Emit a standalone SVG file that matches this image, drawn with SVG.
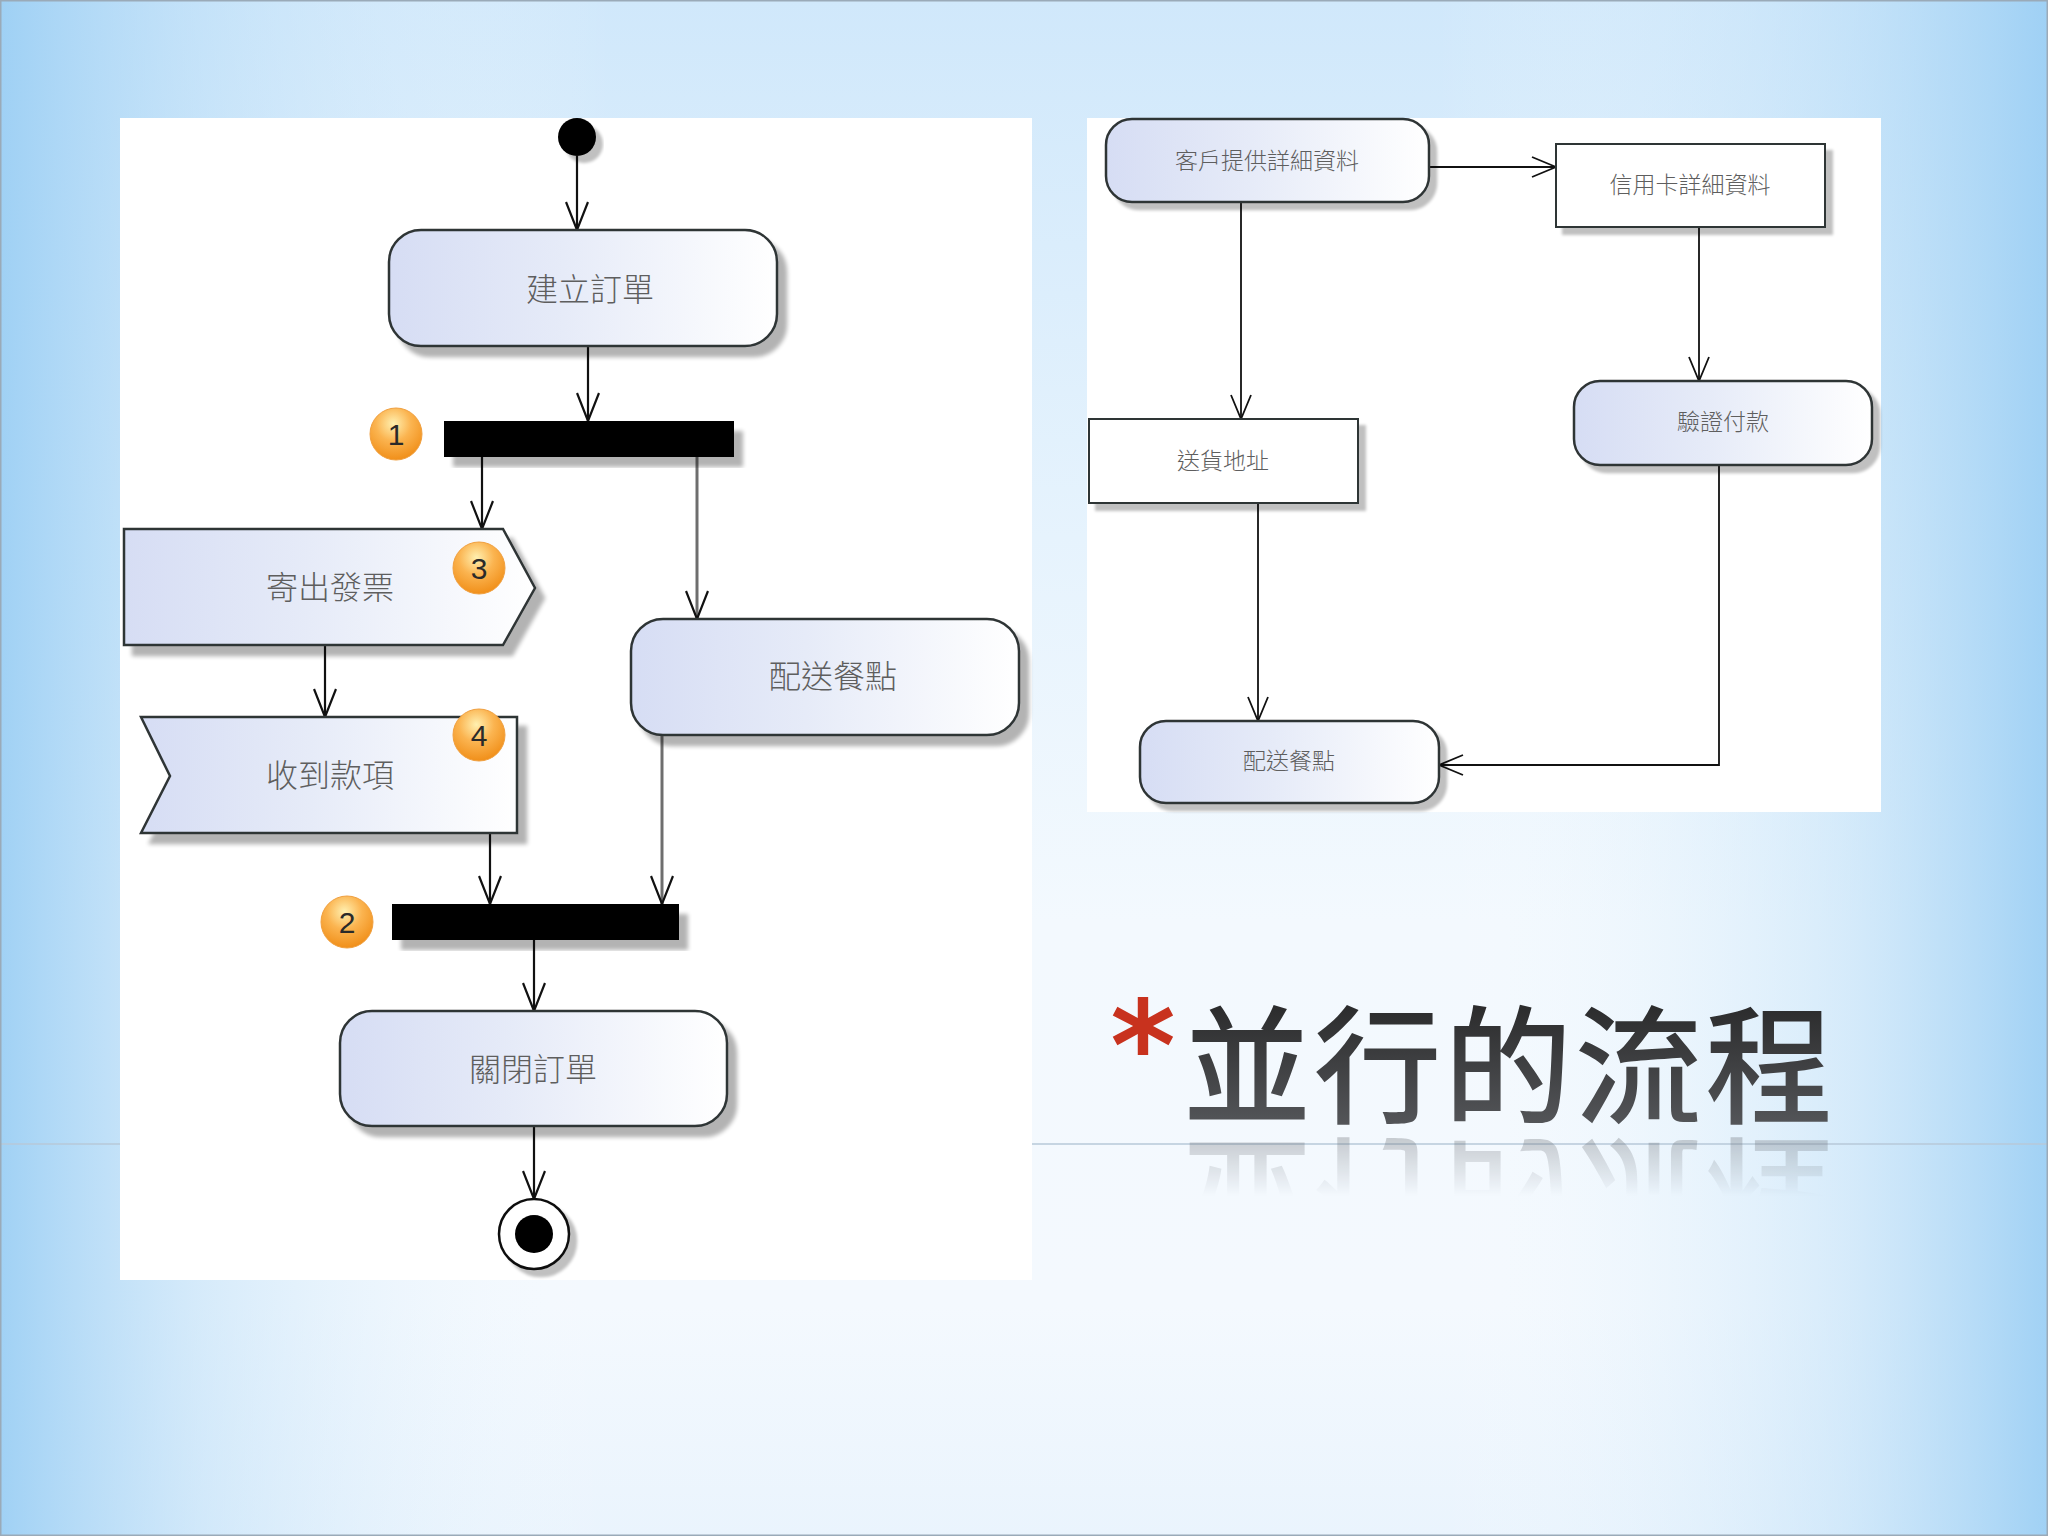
<svg xmlns="http://www.w3.org/2000/svg" xmlns:xlink="http://www.w3.org/1999/xlink" width="2048" height="1536" viewBox="0 0 2048 1536">
<defs>
  <linearGradient id="bgV" x1="0" y1="0" x2="0" y2="1">
    <stop offset="0" stop-color="#d0e8fb"/>
    <stop offset="0.35" stop-color="#e6f3fd"/>
    <stop offset="0.6" stop-color="#f3f9fe"/>
    <stop offset="0.85" stop-color="#f4f9fe"/>
    <stop offset="1" stop-color="#eaf4fd"/>
  </linearGradient>
  <linearGradient id="bgH" x1="0" y1="0" x2="1" y2="0">
    <stop offset="0" stop-color="#9ccff4" stop-opacity="0.95"/>
    <stop offset="0.1" stop-color="#b9ddf7" stop-opacity="0.5"/>
    <stop offset="0.3" stop-color="#ffffff" stop-opacity="0"/>
    <stop offset="0.7" stop-color="#ffffff" stop-opacity="0"/>
    <stop offset="0.9" stop-color="#b9ddf7" stop-opacity="0.5"/>
    <stop offset="1" stop-color="#9ccff4" stop-opacity="0.95"/>
  </linearGradient>
  <linearGradient id="nodeFill" x1="0" y1="0" x2="1" y2="0">
    <stop offset="0" stop-color="#d6ddf4"/>
    <stop offset="0.45" stop-color="#e6ebf8"/>
    <stop offset="1" stop-color="#ffffff"/>
  </linearGradient>
  <radialGradient id="badge" cx="0.45" cy="0.3" r="0.75">
    <stop offset="0" stop-color="#fff0b0"/>
    <stop offset="0.45" stop-color="#fbb450"/>
    <stop offset="1" stop-color="#ef8a12"/>
  </radialGradient>
  <linearGradient id="titleFill" x1="0" y1="0" x2="0" y2="1">
    <stop offset="0" stop-color="#1e1e1e"/>
    <stop offset="1" stop-color="#5c5e62"/>
  </linearGradient>
  <linearGradient id="reflFade" x1="0" y1="0" x2="0" y2="1">
    <stop offset="0" stop-color="#fff" stop-opacity="0.4"/>
    <stop offset="1" stop-color="#fff" stop-opacity="0"/>
  </linearGradient>
  <mask id="reflMask" maskUnits="userSpaceOnUse" x="1100" y="1120" width="800" height="100">
    <rect x="1100" y="1126" width="800" height="70" fill="url(#reflFade)"/>
  </mask>
  <filter id="shadow" x="-10%" y="-10%" width="130%" height="140%">
    <feGaussianBlur in="SourceAlpha" stdDeviation="2"/>
    <feOffset dx="9" dy="10" result="o"/>
    <feComponentTransfer><feFuncA type="linear" slope="0.3"/></feComponentTransfer>
    <feMerge><feMergeNode/><feMergeNode in="SourceGraphic"/></feMerge>
  </filter>
  <filter id="shadowSm" x="-10%" y="-10%" width="130%" height="140%">
    <feGaussianBlur in="SourceAlpha" stdDeviation="1.5"/>
    <feOffset dx="7" dy="7" result="o"/>
    <feComponentTransfer><feFuncA type="linear" slope="0.25"/></feComponentTransfer>
    <feMerge><feMergeNode/><feMergeNode in="SourceGraphic"/></feMerge>
  </filter>
  <marker id="arr" viewBox="0 0 30 24" refX="29" refY="12" markerWidth="30" markerHeight="24" markerUnits="userSpaceOnUse" orient="auto">
    <path d="M1,1 L29,12 L1,23" fill="none" stroke="#111" stroke-width="2.2"/>
  </marker>
  <marker id="arrS" viewBox="0 0 26 22" refX="25" refY="11" markerWidth="26" markerHeight="22" markerUnits="userSpaceOnUse" orient="auto">
    <path d="M1,1 L25,11 L1,21" fill="none" stroke="#111" stroke-width="1.8"/>
  </marker>
  <style>
    .node { fill: url(#nodeFill); stroke: #2f3436; stroke-width: 2.5; }
    .box { fill: #ffffff; stroke: #2f3436; stroke-width: 2; }
    .lbl { font-family: "Noto Sans CJK TC", "Noto Sans CJK SC", sans-serif; font-weight: 300; fill: #5e5e5e; text-anchor: middle; }
    .big { font-size: 32px; }
    .small { font-size: 23px; }
    .bar { fill: #000; }
    .badgeC { fill: url(#badge); stroke: #f0a040; stroke-width: 1; }
    .badgeT { font-family: "Liberation Sans", "DejaVu Sans", sans-serif; font-size: 30px; fill: #2a2a2a; text-anchor: middle; }
    .edge { fill: none; stroke: #111; stroke-width: 2.2; marker-end: url(#arr); }
    .edgeG { fill: none; stroke: #6e6e6e; stroke-width: 3; marker-end: url(#arr); }
    .edgeS { fill: none; stroke: #111; stroke-width: 1.8; marker-end: url(#arrS); }
    .title { font-family: "Noto Sans CJK TC", "Noto Sans CJK SC", sans-serif; font-size: 128px; font-weight: 500; letter-spacing: 2.5px; }
  </style>
  <text id="titleText" class="title" x="1183" y="1114">並行的流程</text>
</defs>

<!-- background -->
<rect x="0" y="0" width="2048" height="1536" fill="url(#bgV)"/>
<rect x="0" y="0" width="2048" height="1536" fill="url(#bgH)"/>
<line x1="0" y1="1144" x2="2048" y2="1144" stroke="#b7c9d8" stroke-width="1.5"/>
<rect x="0.5" y="0.5" width="2047" height="1535" fill="none" stroke="#9aaab8" stroke-width="2"/>

<!-- panels -->
<rect x="120" y="118" width="912" height="1162" fill="#ffffff"/>
<rect x="1087" y="118" width="794" height="694" fill="#ffffff"/>

<!-- connectors -->
<g id="connectors">
  <line class="edge" x1="577" y1="156" x2="577" y2="230"/>
  <line class="edge" x1="588" y1="346" x2="588" y2="421"/>
  <line class="edge" x1="482" y1="457" x2="482" y2="529"/>
  <line class="edgeG" x1="697" y1="457" x2="697" y2="619"/>
  <line class="edge" x1="325" y1="645" x2="325" y2="717"/>
  <line class="edge" x1="490" y1="833" x2="490" y2="904"/>
  <line class="edgeG" x1="662" y1="735" x2="662" y2="904"/>
  <line class="edge" x1="534" y1="940" x2="534" y2="1011"/>
  <line class="edge" x1="534" y1="1126" x2="534" y2="1199"/>

  <line class="edgeS" x1="1429" y1="167" x2="1556" y2="167"/>
  <line class="edgeS" x1="1241" y1="202" x2="1241" y2="419"/>
  <line class="edgeS" x1="1699" y1="227" x2="1699" y2="381"/>
  <line class="edgeS" x1="1258" y1="503" x2="1258" y2="721"/>
  <polyline class="edgeS" points="1719,465 1719,765 1439,765"/>
</g>

<!-- left diagram nodes -->
<g id="start">
  <circle cx="577" cy="137" r="19" fill="#000" filter="url(#shadowSm)"/>
</g>
<g id="create-order">
  <rect class="node" x="389" y="230" width="388" height="116" rx="32" filter="url(#shadow)"/>
  <text class="lbl big" x="590" y="301">建立訂單</text>
</g>
<g id="fork">
  <rect class="bar" x="444" y="421" width="290" height="36" filter="url(#shadow)"/>
</g>
<g id="badge-1">
  <circle class="badgeC" cx="396" cy="434" r="26"/>
  <text class="badgeT" x="396" y="445">1</text>
</g>
<g id="send-invoice">
  <path class="node" d="M124,529 L503,529 L535,588 L503,645 L124,645 Z" filter="url(#shadow)"/>
  <text class="lbl big" x="330" y="599">寄出發票</text>
</g>
<g id="badge-3">
  <circle class="badgeC" cx="479" cy="568" r="26"/>
  <text class="badgeT" x="479" y="579">3</text>
</g>
<g id="deliver-left">
  <rect class="node" x="631" y="619" width="388" height="116" rx="32" filter="url(#shadow)"/>
  <text class="lbl big" x="833" y="688">配送餐點</text>
</g>
<g id="receive-payment">
  <path class="node" d="M141,717 L517,717 L517,833 L141,833 L170,776 Z" filter="url(#shadow)"/>
  <text class="lbl big" x="330" y="787">收到款項</text>
</g>
<g id="badge-4">
  <circle class="badgeC" cx="479" cy="735" r="26"/>
  <text class="badgeT" x="479" y="746">4</text>
</g>
<g id="join">
  <rect class="bar" x="392" y="904" width="287" height="36" filter="url(#shadow)"/>
</g>
<g id="badge-2">
  <circle class="badgeC" cx="347" cy="922" r="26"/>
  <text class="badgeT" x="347" y="933">2</text>
</g>
<g id="close-order">
  <rect class="node" x="340" y="1011" width="387" height="115" rx="32" filter="url(#shadow)"/>
  <text class="lbl big" x="533" y="1081">關閉訂單</text>
</g>
<g id="end">
  <g filter="url(#shadowSm)">
    <circle cx="534" cy="1234" r="35" fill="#fff" stroke="#111" stroke-width="2.5"/>
    <circle cx="534" cy="1234" r="19" fill="#000"/>
  </g>
</g>

<!-- right diagram nodes -->
<g id="customer-details">
  <rect class="node" x="1106" y="119" width="323" height="83" rx="26" filter="url(#shadowSm)"/>
  <text class="lbl small" x="1267" y="169">客戶提供詳細資料</text>
</g>
<g id="card-details">
  <rect class="box" x="1556" y="144" width="269" height="83" filter="url(#shadowSm)"/>
  <text class="lbl small" x="1690" y="193">信用卡詳細資料</text>
</g>
<g id="address">
  <rect class="box" x="1089" y="419" width="269" height="84" filter="url(#shadowSm)"/>
  <text class="lbl small" x="1223" y="469">送貨地址</text>
</g>
<g id="verify-payment">
  <rect class="node" x="1574" y="381" width="298" height="84" rx="26" filter="url(#shadowSm)"/>
  <text class="lbl small" x="1723" y="430">驗證付款</text>
</g>
<g id="deliver-right">
  <rect class="node" x="1140" y="721" width="299" height="82" rx="26" filter="url(#shadowSm)"/>
  <text class="lbl small" x="1289" y="769">配送餐點</text>
</g>

<!-- title -->
<g id="title">
  <text x="1143" y="1090" font-family="DejaVu Sans, sans-serif" font-weight="700" font-size="125" fill="#c8321e" text-anchor="middle">*</text>
  <use xlink:href="#titleText" href="#titleText" fill="url(#titleFill)"/>
  <g mask="url(#reflMask)">
    <use xlink:href="#titleText" href="#titleText" fill="#6a6e74" transform="translate(0,2262) scale(1,-1)"/>
  </g>
</g>
</svg>
